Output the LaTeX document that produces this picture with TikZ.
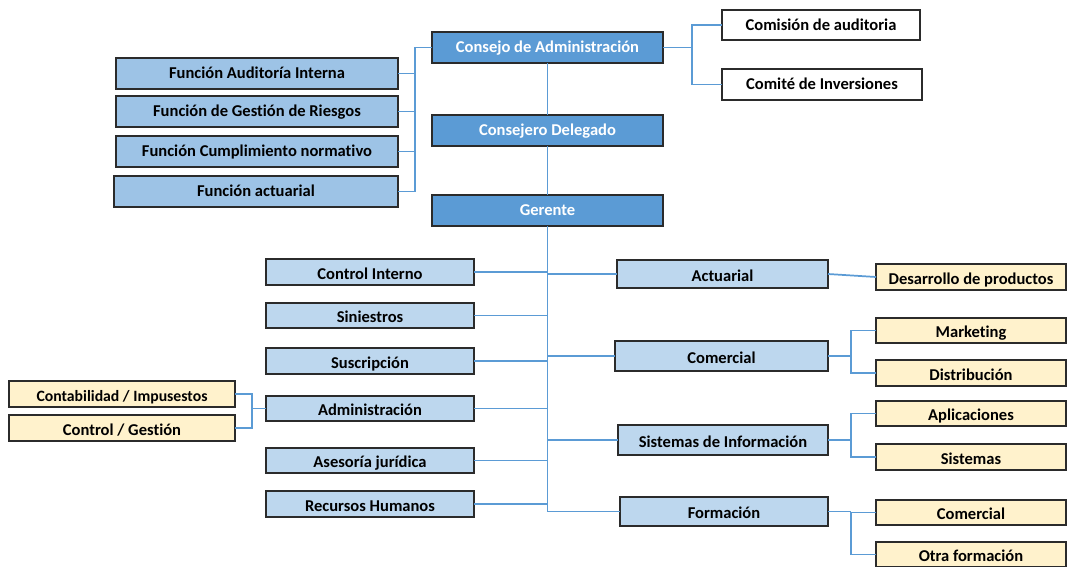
\documentclass[tikz,border=0pt]{standalone}
\usepackage{fontspec}
\setmainfont{Carlito}[Ligatures=NoCommon]
\definecolor{darkblue}{HTML}{5B9BD5}
\definecolor{midblue}{HTML}{9DC3E6}
\definecolor{lightblue}{HTML}{BDD7EE}
\definecolor{lightyellow}{HTML}{FFF2CC}
\definecolor{linecol}{HTML}{5B9BD5}
\definecolor{bordercol}{HTML}{2B2B2B}
\tikzset{
  base/.style={draw=bordercol, line width=1.1pt, inner sep=0pt, outer sep=0pt, font=\fontsize{12.4}{14}\selectfont\bfseries, text height=9pt, text depth=1pt},
  topbox/.style={base, fill=darkblue, text=white},
  funcbox/.style={base, fill=midblue},
  deptbox/.style={base, fill=lightblue, text height=11.5pt, text depth=1pt},
  subbox/.style={base, fill=lightyellow, text height=11.5pt, text depth=1pt},
  whitebox/.style={base, fill=white},
  conn/.style={draw=linecol, line width=1.3pt}
}
\newcommand\bx[7]{\node[#6, minimum width={(#4-#2)*0.75pt}, minimum height={(#5-#3)*0.75pt}] (#1) at ({(#2+#4)/2},{(#3+#5)/2}) {#7};}
\begin{document}
\begin{tikzpicture}[x=0.75pt,y=-0.75pt]
\useasboundingbox (0,0) rectangle (1068,567);
% top chain
\bx{cons}{432}{32}{663}{63}{topbox}{Consejo de Administración}
\bx{cdel}{432}{115}{663}{146}{topbox}{Consejero Delegado}
\bx{ger}{432}{195}{663}{226}{topbox}{Gerente}
% functions
\bx{fai}{116}{58}{398}{89}{funcbox}{Función Auditoría Interna}
\bx{fgr}{116}{96}{398}{127}{funcbox}{Función de Gestión de Riesgos}
\bx{fcn}{116}{136}{398}{167}{funcbox}{Función Cumplimiento normativo}
\bx{fac}{114}{176}{398}{207}{funcbox}{Función actuarial}
% committees
\bx{caud}{722}{10}{920}{40}{whitebox}{Comisión de auditoria}
\bx{cinv}{722}{69}{922}{100}{whitebox}{Comité de Inversiones}
% left departments
\bx{ci}{266}{259}{474}{285}{deptbox}{Control Interno}
\bx{sin}{266}{303}{474}{328}{deptbox}{Siniestros}
\bx{sus}{266}{348}{474}{374}{deptbox}{Suscripción}
\bx{adm}{266}{396}{474}{421}{deptbox}{Administración}
\bx{ase}{266}{448}{474}{473}{deptbox}{Asesoría jurídica}
\bx{rh}{266}{491}{474}{517}{deptbox}{Recursos Humanos}
% right departments
\bx{act}{617}{260}{828}{288}{deptbox}{Actuarial}
\bx{com}{615}{341}{828}{371}{deptbox}{Comercial}
\bx{sis}{618}{425}{828}{455}{deptbox}{Sistemas de Información}
\bx{form}{620}{497}{828}{526}{deptbox}{Formación}
% sub units
\bx{des}{876}{264}{1066}{290}{subbox}{Desarrollo de productos}
\bx{mkt}{876}{318}{1066}{343}{subbox}{Marketing}
\bx{dis}{876}{360}{1066}{386}{subbox}{Distribución}
\bx{apl}{876}{401}{1066}{426}{subbox}{Aplicaciones}
\bx{sist}{876}{444}{1066}{470}{subbox}{Sistemas}
\bx{fcom}{876}{500}{1066}{525}{subbox}{Comercial}
\bx{otra}{876}{542}{1066}{567}{subbox}{Otra formación}
\bx{cont}{9}{381}{235}{407}{subbox}{\fontsize{11.8}{13}\selectfont Contabilidad / Impusestos}
\bx{cges}{9}{415}{235}{441}{subbox}{Control / Gestión}
% helper coordinates
\coordinate (lb) at (415,0);
\coordinate (rb) at (692,0);
\coordinate (sb) at (851,0);
\coordinate (ab) at (252,0);
% connectors
\draw[conn] (cons.south) -- (cdel.north);
\draw[conn] (cdel.south) -- (ger.north);
\draw[conn] (ger.south) -- (ger.south |- form.west);
\draw[conn] (cons.west) -- (cons.west -| lb) -- (lb |- fac.east) -- (fac.east);
\draw[conn] (fai.east) -- (fai.east -| lb);
\draw[conn] (fgr.east) -- (fgr.east -| lb);
\draw[conn] (fcn.east) -- (fcn.east -| lb);
\draw[conn] (cons.east) -- (cons.east -| rb);
\draw[conn] (caud.west) -- (caud.west -| rb) -- (rb |- cinv.west) -- (cinv.west);
\foreach \n in {ci,sin,sus,adm,ase,rh}{\draw[conn] (\n.east) -- (\n.east -| ger.south);}
\foreach \n in {act,com,sis,form}{\draw[conn] (\n.west -| ger.south) -- (\n.west);}
\draw[conn] (act.east) -- (des.west);
\draw[conn] (com.east) -- (com.east -| sb);
\draw[conn] (mkt.west) -- (mkt.west -| sb) -- (sb |- dis.west) -- (dis.west);
\draw[conn] (sis.east) -- (sis.east -| sb);
\draw[conn] (apl.west) -- (apl.west -| sb) -- (sb |- sist.west) -- (sist.west);
\draw[conn] (form.east) -- (form.east -| sb);
\draw[conn] (fcom.west) -- (fcom.west -| sb) -- (sb |- otra.west) -- (otra.west);
\draw[conn] (adm.west) -- (adm.west -| ab);
\draw[conn] (cont.east) -- (cont.east -| ab) -- (ab |- cges.east) -- (cges.east);
\end{tikzpicture}
\end{document}
